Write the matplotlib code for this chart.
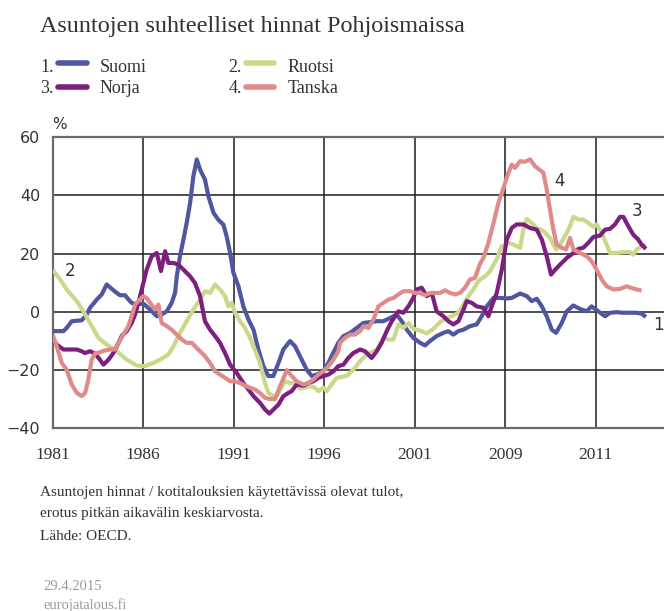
import matplotlib
matplotlib.use("Agg")
import matplotlib.pyplot as plt
from matplotlib.lines import Line2D

# ---------------- data ----------------
suomi_years = [1981.00, 1981.59, 1981.77, 1982.05, 1982.60, 1982.88, 1983.06, 1983.43, 1983.71, 1983.98,
               1984.26, 1984.54, 1984.72, 1985.00, 1985.18, 1985.36, 1985.64, 1986.00, 1986.38, 1986.75,
               1987.02, 1987.30, 1987.57, 1987.76, 1987.85, 1988.03, 1988.22, 1988.40, 1988.59, 1988.77,
               1988.96, 1989.14, 1989.41, 1989.60, 1989.88, 1990.15, 1990.43, 1990.61, 1990.80, 1990.98,
               1991.26, 1991.53, 1991.81, 1992.09, 1992.36, 1992.64, 1992.91, 1993.19, 1993.47, 1993.74,
               1994.11, 1994.39, 1994.66, 1995.03, 1995.31, 1995.58, 1995.95, 1996.23, 1996.50, 1996.78,
               1997.06, 1997.43, 1997.80, 1998.16, 1998.53, 1998.90, 1999.27, 1999.64, 2000.00, 2000.28,
               2000.56, 2000.92, 2001.29, 2001.57, 2001.84, 2002.21, 2002.58, 2002.86, 2003.13, 2003.41,
               2003.69, 2004.05, 2004.42, 2004.70, 2004.98, 2005.35, 2005.71, 2006.08, 2006.36, 2006.82,
               2007.19, 2007.46, 2007.74, 2008.02, 2008.29, 2008.57, 2008.81, 2009.12, 2009.40, 2009.76,
               2010.13, 2010.50, 2010.77, 2011.14, 2011.51, 2011.79, 2012.15, 2012.52, 2012.89, 2013.26,
               2013.53, 2013.77]
suomi_vals = [-6.6, -6.6, -5.5, -3.2, -2.9, -0.9, 1.4, 4.2, 6.0, 9.4,
              7.9, 6.5, 5.7, 5.7, 4.3, 3.1, 2.5, 2.9, 0.8, -1.5,
              -0.9, 0.2, 3.1, 6.5, 12.0, 19.1, 24.8, 30.5, 37.4, 46.5,
              52.3, 48.8, 45.4, 39.7, 34.0, 31.6, 29.9, 25.9, 20.2, 13.4,
              8.8, 1.9, -2.6, -6.1, -12.9, -18.6, -22.0, -22.0, -17.5, -12.9,
              -10.0, -11.8, -15.2, -19.8, -22.0, -21.5, -20.4, -17.5, -14.0, -10.6,
              -8.3, -7.2, -5.5, -3.8, -3.5, -3.2, -3.2, -2.1, -0.9, -3.2,
              -6.1, -8.9, -10.6, -11.5, -10.0, -8.3, -7.2, -6.6, -7.8, -6.6,
              -6.1, -4.9, -4.3, -1.5, 1.9, 4.8, 4.8, 4.6, 4.8, 6.3,
              5.4, 3.7, 4.5, 1.9, -1.5, -6.1, -7.2, -3.8, 0.2, 2.2,
              1.0, 0.2, 1.9, 0.2, -1.5, -0.3, -0.1, -0.3, -0.3, -0.3,
              -0.6, -1.7]

ruotsi_years = [1981.00, 1981.41, 1981.77, 1982.33, 1982.69, 1983.06, 1983.52, 1983.98, 1984.54, 1985.09,
                1985.64, 1986.10, 1986.56, 1986.93, 1987.39, 1987.67, 1988.03, 1988.40, 1988.77, 1989.14,
                1989.41, 1989.69, 1989.97, 1990.24, 1990.52, 1990.70, 1990.89, 1991.07, 1991.35, 1991.62,
                1991.90, 1992.17, 1992.45, 1992.73, 1992.91, 1993.19, 1993.37, 1993.59, 1993.83, 1994.11,
                1994.39, 1994.66, 1994.94, 1995.22, 1995.49, 1995.68, 1995.95, 1996.14, 1996.41, 1996.69,
                1997.24, 1997.61, 1997.98, 1998.35, 1998.62, 1998.90, 1999.27, 1999.54, 1999.82, 2000.10,
                2000.37, 2000.65, 2000.92, 2001.29, 2001.66, 2002.03, 2002.40, 2002.76, 2003.04, 2003.41,
                2003.69, 2003.96, 2004.24, 2004.51, 2004.61, 2004.88, 2005.16, 2005.35, 2005.53, 2005.80,
                2006.17, 2006.45, 2006.82, 2007.00, 2007.18, 2007.46, 2007.74, 2008.11, 2008.47, 2008.81,
                2009.03, 2009.40, 2009.58, 2009.76, 2010.04, 2010.31, 2010.59, 2010.87, 2011.05, 2011.33,
                2011.60, 2011.79, 2012.15, 2012.52, 2012.89, 2013.07, 2013.26, 2013.53, 2013.77]
ruotsi_vals = [14.4, 11.1, 7.7, 3.7, 0.2, -3.8, -8.9, -11.2, -13.5, -16.4,
               -18.4, -18.6, -17.5, -16.4, -14.6, -11.8, -7.2, -3.2, 0.8, 4.2,
               7.1, 6.5, 9.4, 7.7, 5.4, 1.9, 3.1, -0.3, -3.2, -5.5,
               -8.9, -13.0, -17.5, -24.4, -27.8, -28.9, -28.9, -26.6, -23.8, -24.4,
               -24.4, -26.4, -26.0, -25.5, -26.0, -27.2, -26.0, -27.2, -24.9, -22.6,
               -22.0, -19.8, -16.9, -14.6, -13.8, -13.0, -8.9, -9.5, -9.5, -4.3,
               -5.5, -3.8, -5.8, -6.4, -7.4, -5.8, -3.5, -2.1, -1.5, -0.3,
               2.5, 5.4, 7.7, 10.5, 11.1, 12.2, 13.9, 16.2, 18.0, 22.5,
               23.7, 23.1, 22.0, 28.2, 31.9, 30.5, 28.8, 27.7, 25.4, 21.4,
               23.1, 27.1, 29.4, 32.6, 31.7, 31.7, 30.5, 29.2, 30.0, 27.1,
               23.1, 20.2, 20.2, 20.5, 20.5, 19.6, 21.4, 22.5, 23.1]

norja_years = [1981.00, 1981.22, 1981.59, 1981.96, 1982.33, 1982.60, 1982.79, 1983.06, 1983.34, 1983.61,
               1983.80, 1984.08, 1984.35, 1984.54, 1984.81, 1985.09, 1985.36, 1985.55, 1985.73, 1985.92,
               1986.19, 1986.47, 1986.75, 1986.98, 1987.21, 1987.39, 1987.67, 1987.94, 1988.22, 1988.59,
               1988.86, 1989.14, 1989.41, 1989.69, 1989.97, 1990.24, 1990.52, 1990.80, 1991.16, 1991.53,
               1991.81, 1992.09, 1992.45, 1992.73, 1992.97, 1993.19, 1993.47, 1993.74, 1994.02, 1994.20,
               1994.48, 1994.85, 1995.12, 1995.40, 1995.68, 1995.95, 1996.23, 1996.50, 1996.78, 1997.06,
               1997.33, 1997.61, 1997.98, 1998.25, 1998.62, 1998.90, 1999.17, 1999.45, 1999.73, 2000.10,
               2000.37, 2000.65, 2000.92, 2001.11, 2001.38, 2001.66, 2001.94, 2002.21, 2002.58, 2002.86,
               2003.13, 2003.41, 2003.69, 2003.87, 2004.15, 2004.42, 2004.79, 2005.07, 2005.25, 2005.53,
               2005.81, 2006.08, 2006.36, 2006.63, 2007.00, 2007.37, 2007.74, 2008.02, 2008.29, 2008.53,
               2008.76, 2009.12, 2009.40, 2009.76, 2010.04, 2010.31, 2010.59, 2010.87, 2011.24, 2011.51,
               2011.79, 2012.06, 2012.34, 2012.52, 2012.80, 2013.07, 2013.35, 2013.53, 2013.77]
norja_vals = [-9.5, -11.2, -12.9, -12.9, -12.9, -13.5, -14.1, -13.5, -14.3, -16.4,
              -18.1, -16.4, -14.1, -11.8, -8.3, -6.6, -3.8, -0.9, 3.1, 7.7,
              14.5, 19.1, 20.2, 14.0, 20.8, 16.8, 16.8, 16.2, 14.5, 12.2,
              9.9, 5.4, -3.2, -6.1, -8.3, -10.6, -14.1, -18.1, -20.9, -24.4,
              -26.6, -28.9, -31.2, -33.5, -34.9, -33.5, -31.8, -28.9, -27.8, -27.2,
              -24.9, -25.3, -24.4, -23.8, -22.6, -22.0, -21.5, -20.4, -18.6, -18.1,
              -15.8, -14.1, -12.9, -13.5, -15.8, -13.5, -10.6, -6.6, -3.2, 0.2,
              -0.3, 1.9, 4.8, 7.7, 8.3, 5.4, 6.5, 0.2, -1.5, -3.2,
              -4.3, -3.2, 0.8, 3.7, 3.1, 1.9, 1.4, -1.5, 1.9, 6.5,
              14.5, 24.8, 28.8, 30.0, 30.0, 28.8, 28.2, 24.8, 19.1, 12.8,
              14.5, 16.8, 18.5, 20.2, 21.6, 22.0, 23.7, 25.7, 26.2, 28.2,
              28.5, 30.0, 32.6, 32.6, 29.4, 26.5, 24.8, 23.1, 21.6]

tanska_years = [1981.00, 1981.22, 1981.50, 1981.77, 1982.05, 1982.33, 1982.60, 1982.79, 1982.97, 1983.15,
                1983.34, 1983.61, 1983.89, 1984.17, 1984.44, 1984.63, 1984.90, 1985.18, 1985.36, 1985.55,
                1985.73, 1986.00, 1986.18, 1986.38, 1986.65, 1986.84, 1987.02, 1987.30, 1987.57, 1987.85,
                1988.13, 1988.40, 1988.68, 1988.96, 1989.14, 1989.41, 1989.69, 1989.97, 1990.24, 1990.52,
                1990.80, 1991.07, 1991.35, 1991.62, 1991.90, 1992.17, 1992.45, 1992.73, 1993.00, 1993.28,
                1993.56, 1993.93, 1994.20, 1994.48, 1994.85, 1995.12, 1995.40, 1995.68, 1995.95, 1996.23,
                1996.50, 1996.78, 1996.87, 1997.15, 1997.43, 1997.70, 1997.98, 1998.16, 1998.44, 1998.72,
                1998.99, 1999.27, 1999.54, 1999.82, 2000.10, 2000.37, 2000.74, 2001.02, 2001.29, 2001.57,
                2001.84, 2002.12, 2002.40, 2002.68, 2002.95, 2003.23, 2003.50, 2003.78, 2004.05, 2004.33,
                2004.60, 2004.79, 2005.07, 2005.35, 2005.62, 2005.90, 2006.17, 2006.36, 2006.54, 2006.82,
                2007.09, 2007.37, 2007.64, 2007.92, 2008.11, 2008.29, 2008.47, 2008.66, 2008.84, 2009.12,
                2009.36, 2009.58, 2009.76, 2010.13, 2010.50, 2010.77, 2011.05, 2011.33, 2011.60, 2011.97,
                2012.34, 2012.71, 2012.98, 2013.26, 2013.53]
tanska_vals = [-7.8, -11.8, -17.5, -19.8, -24.9, -27.8, -28.9, -27.8, -23.2, -16.4,
               -14.3, -13.8, -13.2, -12.9, -12.9, -10.6, -7.8, -4.9, -1.5, 2.5,
               3.7, 5.4, 4.8, 3.1, 0.8, 2.5, -3.8, -4.9, -6.1, -7.8,
               -9.5, -10.6, -10.6, -12.4, -13.5, -15.2, -17.5, -20.4, -21.5, -22.6,
               -23.8, -23.8, -24.4, -25.3, -26.0, -26.6, -27.8, -29.5, -29.9, -29.9,
               -25.5, -20.0, -22.0, -23.8, -24.9, -24.4, -23.2, -21.5, -20.4, -18.6,
               -16.4, -13.5, -10.6, -8.9, -7.8, -7.8, -6.6, -4.9, -5.5, -2.6,
               1.9, 3.1, 4.2, 4.8, 6.0, 7.1, 7.1, 6.5, 6.5, 5.7,
               6.5, 6.5, 6.5, 7.4, 6.5, 6.0, 6.5, 8.3, 11.1, 11.7,
               16.4, 18.5, 23.7, 30.5, 37.4, 42.5, 47.7, 50.5, 49.4, 51.7,
               51.5, 52.3, 50.0, 48.6, 47.7, 42.0, 35.1, 28.2, 23.1, 22.0,
               21.4, 25.4, 21.4, 20.2, 19.1, 17.4, 14.5, 11.1, 8.8, 7.7,
               7.9, 8.8, 8.2, 7.7, 7.3]

series_names = ["Suomi", "Ruotsi", "Norja", "Tanska"]
series_numbers = ["1.", "2.", "3.", "4."]
end_labels = ["1", "2", "3", "4"]
xtick_positions = [1981, 1986, 1991, 1996, 2001, 2006, 2011]
xtick_labels = ["1981", "1986", "1991", "1996", "2001", "2009", "2011"]
ytick_values = [-40, -20, 0, 20, 40, 60]

# ---------------- styling ----------------
colors = {"Suomi": "#4f57a1", "Ruotsi": "#cbd88a", "Norja": "#7c1f7e", "Tanska": "#df8b8c"}
serif = "Liberation Serif"
sans = "DejaVu Sans"
txt = "#333333"

fig = plt.figure(figsize=(6.64, 6.11), dpi=100)
fig.patch.set_facecolor("white")
ax = fig.add_axes([0.0794, 0.2987, 0.9206, 0.4771])

data = {
    "Suomi": (suomi_years, suomi_vals),
    "Ruotsi": (ruotsi_years, ruotsi_vals),
    "Norja": (norja_years, norja_vals),
    "Tanska": (tanska_years, tanska_vals),
}
for name in series_names:
    xs, ys = data[name]
    ax.plot(xs, ys, color=colors[name], lw=3.0, solid_joinstyle="round",
            solid_capstyle="butt", zorder=3)

ax.set_xlim(1981, 2014.77)
ax.set_ylim(-40, 60)
ax.set_yticks(ytick_values)
ax.set_yticklabels([f"\u2212{abs(v)}" if v < 0 else str(v) for v in ytick_values],
                   fontfamily=sans, fontsize=11.5, color=txt)
ax.set_xticks(xtick_positions)
ax.set_xticklabels(xtick_labels, fontfamily=serif, fontsize=12.5, color=txt)
ax.tick_params(axis="both", length=0)
ax.tick_params(axis="y", pad=9)
ax.tick_params(axis="x", pad=13)
ax.grid(True, color="#1e1e1e", lw=1.1, zorder=1)
ax.set_axisbelow(True)
for side in ["left", "bottom", "top"]:
    ax.spines[side].set_color("#6a6a6a")
    ax.spines[side].set_linewidth(1.6)
ax.spines["right"].set_visible(False)

# series number labels near the lines
label_pos = {"1": (2014.44, -4.5), "2": (1981.96, 13.9), "3": (2013.26, 34.6), "4": (2008.97, 44.8)}
for lab in end_labels:
    x, y = label_pos[lab]
    ax.text(x, y, lab, fontfamily=sans, fontsize=12, color=txt, ha="center", va="center",
            clip_on=False, zorder=4)

# "%" unit
fig.text(0.0783, 1 - 124 / 611, "%", fontfamily=sans, fontsize=11, color=txt,
         ha="left", va="center")

# title
fig.text(0.0602, 1 - 31.7 / 611, "Asuntojen suhteelliset hinnat Pohjoismaissa",
         fontfamily=serif, fontsize=17.4, color=txt, ha="left", va="baseline")

# legend (manual, numbered)
text_rows = [1 - 71.7 / 611, 1 - 93.3 / 611]
swatch_rows = [1 - 63.3 / 611, 1 - 87.3 / 611]
cols = [(40, 58.3, 87.3, 99.3), (228.3, 245.7, 274.0, 287.3)]
for i, name in enumerate(series_names):
    c = cols[i % 2]
    tr = text_rows[i // 2]
    sr = swatch_rows[i // 2]
    fig.text(c[0] / 664, tr, series_numbers[i], fontfamily=serif, fontsize=13,
             color=txt, ha="left", va="baseline")
    fig.add_artist(Line2D([c[1] / 664, c[2] / 664], [sr, sr], transform=fig.transFigure,
                          color=colors[name], lw=4, solid_capstyle="round"))
    fig.text(c[3] / 664, tr, name, fontfamily=serif, fontsize=13,
             color=txt, ha="left", va="baseline")

# caption
caption = ["Asuntojen hinnat / kotitalouksien käytettävissä olevat tulot,",
           "erotus pitkän aikavälin keskiarvosta.",
           "Lähde: OECD."]
for line, py in zip(caption, [495.7, 516.7, 540.0]):
    fig.text(40 / 664, 1 - py / 611, line, fontfamily=serif, fontsize=11, color=txt,
             ha="left", va="baseline")

fig.text(43 / 664, 1 - 590 / 611, "29.4.2015", fontfamily=serif, fontsize=10.5,
         color="#9a9a9a", ha="left", va="baseline")
fig.text(43 / 664, 1 - 608.5 / 611, "eurojatalous.fi", fontfamily=serif, fontsize=10.5,
         color="#9a9a9a", ha="left", va="baseline")

fig.savefig("out.png", dpi=100, facecolor="white")
